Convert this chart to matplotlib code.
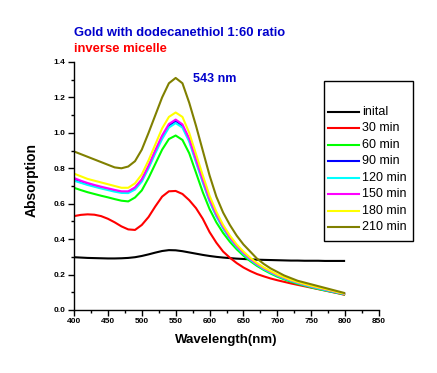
import matplotlib
matplotlib.use("Agg")
import matplotlib.pyplot as plt
from matplotlib.ticker import MultipleLocator, FormatStrFormatter
from matplotlib.patches import Rectangle
from matplotlib.lines import Line2D

plt.rcParams['font.family'] = ['Liberation Sans', 'DejaVu Sans']

wavelength = list(range(400, 801, 10))

initial = [0.298, 0.296, 0.294, 0.293, 0.292, 0.291, 0.291, 0.292, 0.294, 0.298,
           0.305, 0.314, 0.324, 0.333, 0.338, 0.337, 0.332, 0.325, 0.318, 0.311,
           0.305, 0.300, 0.296, 0.293, 0.290, 0.288, 0.286, 0.284, 0.283, 0.282,
           0.281, 0.280, 0.279, 0.279, 0.278, 0.278, 0.278, 0.277, 0.277, 0.277, 0.277]
min30 = [0.530, 0.537, 0.540, 0.538, 0.530, 0.515, 0.495, 0.472, 0.455, 0.452,
         0.480, 0.525, 0.585, 0.640, 0.670, 0.672, 0.655, 0.620, 0.575, 0.515,
         0.440, 0.380, 0.330, 0.295, 0.265, 0.240, 0.220, 0.203, 0.190, 0.178,
         0.168, 0.159, 0.150, 0.142, 0.134, 0.126, 0.118, 0.110, 0.102, 0.094, 0.085]
min60 = [0.690, 0.677, 0.665, 0.655, 0.645, 0.636, 0.626, 0.617, 0.613, 0.635,
         0.675, 0.745, 0.825, 0.905, 0.965, 0.985, 0.960, 0.885, 0.775, 0.665,
         0.570, 0.495, 0.435, 0.385, 0.343, 0.307, 0.276, 0.249, 0.226, 0.206,
         0.188, 0.173, 0.160, 0.148, 0.138, 0.128, 0.119, 0.111, 0.103, 0.095, 0.087]
min90 = [0.735, 0.722, 0.710, 0.700, 0.690, 0.682, 0.673, 0.666, 0.665, 0.688,
         0.732, 0.808, 0.895, 0.975, 1.042, 1.067, 1.040, 0.960, 0.843, 0.729,
         0.620, 0.535, 0.466, 0.407, 0.359, 0.320, 0.287, 0.258, 0.234, 0.214,
         0.195, 0.180, 0.166, 0.154, 0.143, 0.133, 0.124, 0.115, 0.106, 0.098, 0.090]
min120 = [0.730, 0.718, 0.706, 0.696, 0.686, 0.677, 0.668, 0.661, 0.660, 0.680,
          0.725, 0.800, 0.885, 0.965, 1.030, 1.055, 1.030, 0.950, 0.834, 0.720,
          0.612, 0.528, 0.460, 0.402, 0.355, 0.316, 0.283, 0.255, 0.231, 0.211,
          0.193, 0.178, 0.164, 0.152, 0.141, 0.131, 0.122, 0.113, 0.105, 0.097, 0.089]
min150 = [0.745, 0.730, 0.717, 0.706, 0.696, 0.687, 0.678, 0.670, 0.670, 0.692,
          0.738, 0.815, 0.902, 0.985, 1.050, 1.075, 1.048, 0.967, 0.850, 0.735,
          0.625, 0.540, 0.470, 0.410, 0.362, 0.323, 0.289, 0.260, 0.236, 0.216,
          0.197, 0.182, 0.168, 0.156, 0.145, 0.135, 0.126, 0.117, 0.108, 0.099, 0.091]
min180 = [0.770, 0.755, 0.740, 0.730, 0.720, 0.710, 0.700, 0.690, 0.690, 0.715,
          0.765, 0.845, 0.935, 1.025, 1.090, 1.115, 1.090, 1.000, 0.880, 0.760,
          0.645, 0.555, 0.480, 0.420, 0.370, 0.330, 0.295, 0.265, 0.240, 0.220,
          0.200, 0.185, 0.170, 0.158, 0.147, 0.137, 0.128, 0.119, 0.110, 0.100, 0.092]
min210 = [0.895, 0.880, 0.865, 0.850, 0.835, 0.820, 0.805, 0.800, 0.810, 0.840,
          0.905, 1.000, 1.100, 1.200, 1.280, 1.310, 1.280, 1.170, 1.040, 0.900,
          0.760, 0.640, 0.550, 0.480, 0.420, 0.370, 0.330, 0.290, 0.260, 0.235,
          0.215, 0.195, 0.180, 0.165, 0.155, 0.145, 0.135, 0.125, 0.115, 0.105, 0.095]

series = [initial, min30, min60, min90, min120, min150, min180, min210]
labels = ["inital", "30 min", "60 min", "90 min", "120 min", "150 min", "180 min", "210 min"]
colors = ["#000000", "#FF0000", "#00FF00", "#0000FF", "#00FFFF", "#FF00FF", "#FFFF00", "#808000"]

W, H = 437, 373
fig = plt.figure(figsize=(W / 100, H / 100), dpi=100)
ax = fig.add_axes([74 / W, 1 - 310 / H, (379 - 74) / W, (310 - 62) / H])

for vals, c in zip(series, colors):
    ax.plot(wavelength, vals, color=c, lw=1.5, solid_capstyle='butt')

ax.set_xlim(400, 850)
ax.set_ylim(0, 1.4)
for s in ['top', 'right']:
    ax.spines[s].set_visible(False)
for s in ['left', 'bottom']:
    ax.spines[s].set_linewidth(1.0)
ax.xaxis.set_major_locator(MultipleLocator(50))
ax.xaxis.set_minor_locator(MultipleLocator(25))
ax.yaxis.set_major_locator(MultipleLocator(0.2))
ax.yaxis.set_minor_locator(MultipleLocator(0.1))
ax.yaxis.set_major_formatter(FormatStrFormatter('%.1f'))
ax.tick_params(which='major', direction='out', length=4, width=1, labelsize=6, pad=2)
ax.tick_params(which='minor', direction='out', length=2.5, width=1)
for lab in ax.get_xticklabels() + ax.get_yticklabels():
    lab.set_fontweight('bold')

fig.text(32 / W, 1 - 180 / H, "Absorption", rotation=90, ha='center', va='center',
         fontsize=10, fontweight='bold')
fig.text(226 / W, 1 - 340 / H, "Wavelength(nm)", ha='center', va='center',
         fontsize=9.5, fontweight='bold')
fig.text(74 / W, 1 - 36 / H, "Gold with dodecanethiol 1:60 ratio", ha='left', va='baseline',
         fontsize=9.4, fontweight='bold', color='#0000CC')
fig.text(74 / W, 1 - 52.5 / H, "inverse micelle", ha='left', va='baseline',
         fontsize=9.4, fontweight='bold', color='#FF0000')
fig.text(193 / W, 1 - 82.5 / H, "543 nm", ha='left', va='baseline',
         fontsize=9, fontweight='bold', color='#0000CC')

# legend box
fig.patches.append(Rectangle((324 / W, 1 - 241 / H), (413 - 324) / W, (241 - 81) / H,
                             transform=fig.transFigure, fill=False, edgecolor='black',
                             linewidth=1.0))
for i, (lab, c) in enumerate(zip(labels, colors)):
    y = 1 - (111.7 + i * 16.5) / H
    fig.lines.append(Line2D([328 / W, 359 / W], [y, y], transform=fig.transFigure,
                            color=c, lw=1.5))
    fig.text(362 / W, y, lab, ha='left', va='center', fontsize=9, color='black')

fig.savefig("out.png", dpi=100)
